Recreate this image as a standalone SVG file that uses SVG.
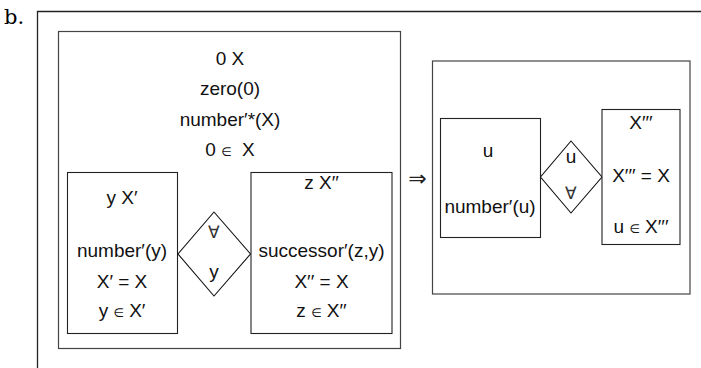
<svg xmlns="http://www.w3.org/2000/svg" width="701" height="368" viewBox="0 0 701 368">
  <style>
    .frame { fill: none; stroke: #222; stroke-width: 1.3; }
    .box { fill: #fff; stroke: #444; stroke-width: 1.2; }
    .inner { fill: #fff; stroke: #222; stroke-width: 1.1; }
    .dia { fill: #fff; stroke: #111; stroke-width: 1.1; }
    text { font-family: "Liberation Sans", Arial, sans-serif; font-size: 19px; fill: #111; text-anchor: middle; }
    .q { font-size: 17px; fill: #333; }
    .in { font-family: "DejaVu Sans", sans-serif; font-size: 12px; }
    .imp { font-family: "DejaVu Sans", sans-serif; font-size: 22px; fill: #222; }
    .label { font-family: "DejaVu Serif", "Liberation Serif", serif; font-size: 21px; text-anchor: start; fill: #000; }
  </style>

  <!-- panel frame -->
  <text class="label" x="4" y="24">b.</text>
  <path class="frame" d="M37.5 368 V11.5 H701"/>

  <!-- left-hand graph -->
  <g id="lhs">
    <rect class="box" x="58.5" y="31.5" width="342" height="317"/>
    <text x="230" y="65">0 X</text>
    <text x="230" y="95">zero(0)</text>
    <text x="230" y="126">number′*(X)</text>
    <text x="230" y="156">0 <tspan class="in">∈</tspan> <tspan dx="5">X</tspan></text>
  </g>
  <g id="lhs-left">
    <rect class="inner" x="67.5" y="172.5" width="110" height="161"/>
    <text x="122" y="204">y X′</text>
    <text x="122" y="257">number′(y)</text>
    <text x="122" y="288">X′ = X</text>
    <text x="122" y="317">y <tspan class="in">∈</tspan> X′</text>
  </g>
  <g id="lhs-quant">
    <polygon class="dia" points="214,212 250.5,254 214,296 178,254"/>
    <text class="q" x="214" y="238">∀</text>
    <text x="214" y="278">y</text>
  </g>
  <g id="lhs-right">
    <rect class="inner" x="251" y="172.5" width="141" height="161"/>
    <text x="321.5" y="189">z X′′</text>
    <text x="321.5" y="257">successor′(z,y)</text>
    <text x="321.5" y="288">X′′ = X</text>
    <text x="321.5" y="317">z <tspan class="in">∈</tspan> X′′</text>
  </g>

  <!-- implication -->
  <g id="connectors">
    <text class="imp" x="417.5" y="186">⇒</text>
  </g>

  <!-- right-hand graph -->
  <g id="rhs">
    <rect class="box" x="432.5" y="61" width="257.5" height="233"/>
  </g>
  <g id="rhs-left">
    <rect class="inner" x="440.5" y="118.5" width="100" height="119"/>
    <text x="488" y="157">u</text>
    <text x="490" y="213">number′(u)</text>
  </g>
  <g id="rhs-quant">
    <polygon class="dia" points="571,141 602,177 571,213 540.5,177"/>
    <text x="571" y="163">u</text>
    <text class="q" x="571" y="199">∀</text>
  </g>
  <g id="rhs-right">
    <rect class="inner" x="602" y="109.5" width="78" height="135"/>
    <text x="641" y="129">X′′′</text>
    <text x="641" y="182">X′′′ = X</text>
    <text x="641" y="233">u <tspan class="in">∈</tspan> X′′′</text>
  </g>
</svg>
